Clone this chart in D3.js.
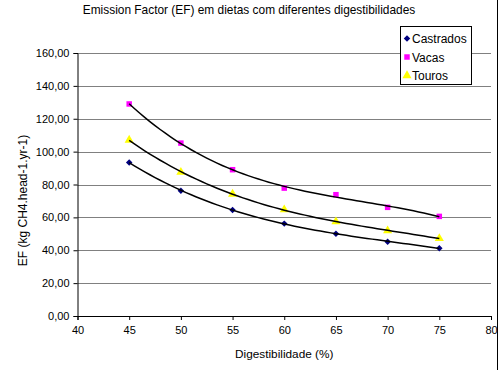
<!DOCTYPE html>
<html><head><meta charset="utf-8">
<script src="https://cdn.jsdelivr.net/npm/d3@7"></script>
<style>body{margin:0;background:#fff}svg{display:block}text{font-family:"Liberation Sans",Arial,sans-serif;fill:#000}</style>
</head><body>
<script>
const title = "Emission Factor (EF) em dietas com diferentes digestibilidades";
const xTitle = "Digestibilidade (%)";
const yTitle = "EF (kg CH4.head-1.yr-1)";
const digest = [45, 50, 55, 60, 65, 70, 75];
const castrados = [93.4, 76.2, 64.5, 56.2, 50.1, 45.2, 41.2];
const vacas = [129.0, 105.2, 89.0, 77.8, 73.8, 66.1, 60.6];
const touros = [107.0, 87.5, 74.2, 64.7, 57.4, 51.9, 47.2];
const xTicks = [40, 45, 50, 55, 60, 65, 70, 75, 80];
const yTicks = [0, 20, 40, 60, 80, 100, 120, 140, 160];
const seriesNames = ["Castrados", "Vacas", "Touros"];

const W = 499, H = 370;
const svg = d3.select("body").append("svg").attr("width", W).attr("height", H);
const x = d3.scaleLinear().domain([40, 80]).range([77.5, 491]);
const y = d3.scaleLinear().domain([0, 160]).range([316, 53]);

svg.append("line").attr("x1", 497.5).attr("x2", 497.5).attr("y1", 0).attr("y2", H).attr("stroke", "#000").attr("stroke-width", 1);

svg.append("text").attr("x", 249).attr("y", 14).attr("text-anchor", "middle").attr("font-size", 11.9).text(title);

svg.append("g").selectAll("line").data(yTicks.filter(d => d > 0)).join("line")
  .attr("x1", x(40)).attr("x2", x(80)).attr("y1", d => Math.round(y(d)) + 0.5).attr("y2", d => Math.round(y(d)) + 0.5)
  .attr("stroke", "#808080").attr("stroke-width", 1);

const fmt = d => d3.format(".2f")(d).replace(".", ",");
const yAxis = svg.append("g").attr("transform", `translate(${x(40)},0)`)
  .call(d3.axisLeft(y).tickValues(yTicks).tickFormat(fmt).tickSize(4).tickPadding(4));
const xAxis = svg.append("g").attr("transform", `translate(0,${y(0)})`)
  .call(d3.axisBottom(x).tickValues(xTicks).tickFormat(d3.format("d")).tickSize(4).tickPadding(6));
[yAxis, xAxis].forEach(a => {
  a.select(".domain").attr("stroke", "#000");
  a.selectAll(".tick line").attr("stroke", "#000");
  a.selectAll("text").attr("font-size", 11).attr("font-family", '"Liberation Sans",Arial,sans-serif').attr("fill", "#000");
});

svg.append("text").attr("x", (x(40) + x(80)) / 2).attr("y", 358).attr("text-anchor", "middle").attr("font-size", 11.8).text(xTitle);
svg.append("text").attr("transform", `translate(27,${(y(0) + y(160)) / 2 + 16}) rotate(-90)`).attr("text-anchor", "middle").attr("font-size", 12).text(yTitle);

// polynomial least-squares trendline (order 3)
function polyFit(xs, ys, order) {
  const m = order + 1;
  const xc = xs.map(v => (v - 60) / 15);
  const A = [];
  for (let i = 0; i < m; i++) {
    A.push([]);
    for (let j = 0; j <= m; j++) A[i].push(0);
  }
  xc.forEach((xv, n) => {
    for (let i = 0; i < m; i++) {
      for (let j = 0; j < m; j++) A[i][j] += Math.pow(xv, i + j);
      A[i][m] += ys[n] * Math.pow(xv, i);
    }
  });
  for (let i = 0; i < m; i++) {
    for (let j = i + 1; j < m; j++) {
      const f = A[j][i] / A[i][i];
      for (let k = i; k <= m; k++) A[j][k] -= f * A[i][k];
    }
  }
  const c = new Array(m).fill(0);
  for (let i = m - 1; i >= 0; i--) {
    let v = A[i][m];
    for (let k = i + 1; k < m; k++) v -= A[i][k] * c[k];
    c[i] = v / A[i][i];
  }
  return xv => { const t = (xv - 60) / 15; return c.reduce((s, ci, k) => s + ci * Math.pow(t, k), 0); };
}

const diamond = { draw(ctx, size) { const r = Math.sqrt(size) / 2; ctx.moveTo(0, -r); ctx.lineTo(r, 0); ctx.lineTo(0, r); ctx.lineTo(-r, 0); ctx.closePath(); } };

const series = [
  { name: seriesNames[0], vals: castrados, color: "#000080", sym: diamond, size: 42 },
  { name: seriesNames[1], vals: vacas, color: "#FF00FF", sym: d3.symbolSquare, size: 30 },
  { name: seriesNames[2], vals: touros, color: "#FFFF00", sym: d3.symbolTriangle, size: 36 }
];

const line = d3.line().x(d => x(d[0])).y(d => y(d[1]));
series.forEach(s => {
  const f = polyFit(digest, s.vals, 3);
  s.pts = d3.range(45, 75.01, 0.5).map(v => [v, f(v)]);
});
series.forEach(s => {
  svg.append("g").selectAll("path").data(digest.map((d, i) => [d, s.vals[i]])).join("path")
    .attr("transform", d => `translate(${x(d[0])},${y(d[1])})`)
    .attr("d", d3.symbol().type(s.sym).size(s.size)).attr("fill", s.color);
});
series.forEach(s => {
  svg.append("path").datum(s.pts).attr("d", line).attr("fill", "none").attr("stroke", "#000").attr("stroke-width", 1.5);
});

const lg = svg.append("g");
lg.append("rect").attr("x", 400.5).attr("y", 26.5).attr("width", 71).attr("height", 58).attr("fill", "#fff").attr("stroke", "#000");
series.forEach((s, i) => {
  const cy = 38.5 + i * 18.5;
  lg.append("path").attr("transform", `translate(407,${cy})`).attr("d", d3.symbol().type(s.sym).size(s.size)).attr("fill", s.color);
  lg.append("text").attr("x", 412).attr("y", cy + 4.5).attr("font-size", 12).text(s.name);
});
</script>
</body></html>
